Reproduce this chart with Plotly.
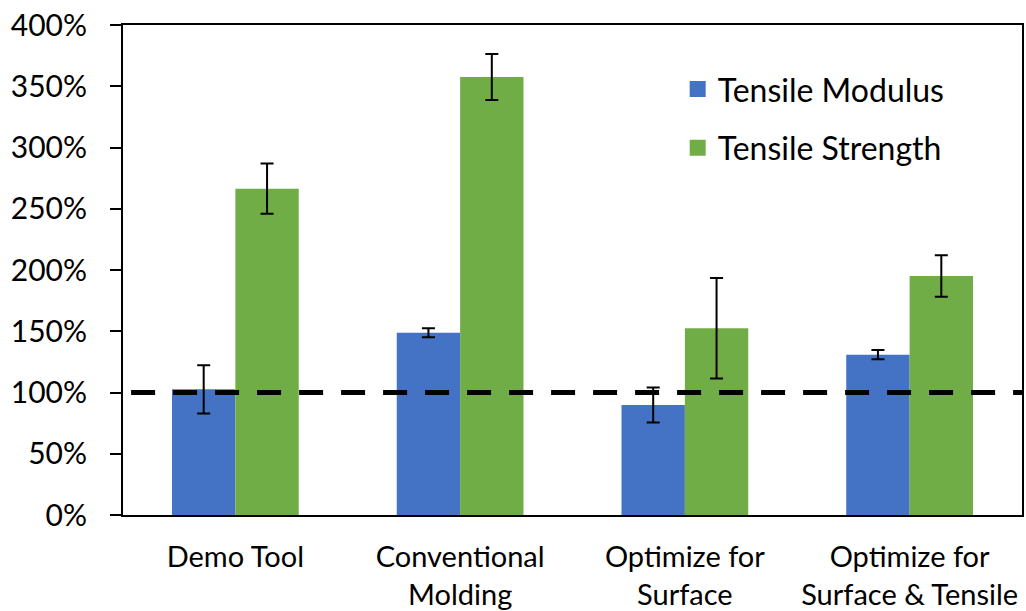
import plotly.graph_objects as go

categories = ["Demo Tool", "Conventional<br>Molding", "Optimize for<br>Surface", "Optimize for<br>Surface & Tensile"]
modulus = [1.026, 1.488, 0.898, 1.309]
modulus_err = [0.197, 0.037, 0.143, 0.037]
strength = [2.664, 3.576, 1.524, 1.951]
strength_err = [0.205, 0.188, 0.410, 0.170]
series_names = ["Tensile Modulus", "Tensile Strength"]
y_ticks = [0, 0.5, 1.0, 1.5, 2.0, 2.5, 3.0, 3.5, 4.0]
baseline = 1.0

BLUE = "#4472C4"
GREEN = "#70AD47"
FONT = "Lato"

fig = go.Figure()
for name, vals, errs, col in [(series_names[0], modulus, modulus_err, BLUE),
                              (series_names[1], strength, strength_err, GREEN)]:
    fig.add_trace(go.Bar(
        x=categories, y=vals, name=name, marker=dict(color=col, line=dict(width=0)),
        error_y=dict(type="data", array=errs, visible=True, color="black", thickness=2, width=6.5),
        showlegend=False,
    ))
    fig.add_trace(go.Scatter(
        x=[None], y=[None], mode="markers", name=name, legendgroup=name,
        marker=dict(symbol="square", size=16, color=col),
    ))

fig.add_shape(type="line", xref="paper", yref="y", x0=0.009, x1=1.0, y0=baseline, y1=baseline,
              line=dict(color="black", width=5, dash="24px,18px"), layer="above")

fig.update_layout(
    width=1026, height=611,
    margin=dict(l=123, r=4, t=25, b=96, autoexpand=False),
    paper_bgcolor="white", plot_bgcolor="white",
    barmode="group", bargap=0.436, bargroupgap=0,
    font=dict(family=FONT, size=29, color="black"),
    legend=dict(x=0.617, y=0.925, xanchor="left", yanchor="top",
                font=dict(family=FONT, size=32, color="black"),
                bgcolor="rgba(0,0,0,0)", traceorder="grouped", tracegroupgap=14),
    xaxis=dict(showline=True, linecolor="black", linewidth=2, mirror=True, automargin=False,
               ticks="", tickfont=dict(size=29), ticklabelstandoff=15, showgrid=False,
               ticklabeloverflow="allow"),
    yaxis=dict(range=[0, 4], tickvals=y_ticks, tickformat=".0%", showline=True, automargin=False,
               linecolor="black", linewidth=2, mirror=True, ticks="outside", ticklen=11,
               tickwidth=2, tickcolor="black", showgrid=False, zeroline=False,
               tickfont=dict(size=30), ticklabelstandoff=17, ticklabeloverflow="allow"),
)

fig.write_html("out.html", config={"displayModeBar": False},
               post_script="document.body.style.margin='0';")
